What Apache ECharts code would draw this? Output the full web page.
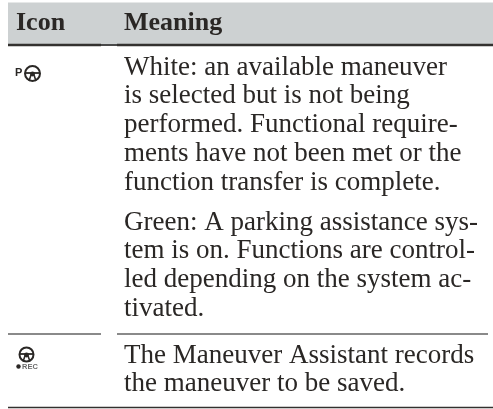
<!DOCTYPE html>
<html>
<head>
<meta charset="utf-8">
<style>
  html, body { margin: 0; padding: 0; background: #fff; }
  #chart { width: 493px; height: 409px; }
</style>
<script src="https://cdn.jsdelivr.net/npm/echarts@6/dist/echarts.min.js"></script>
</head>
<body>
<div id="chart"></div>
<script>
const headers = ['Icon', 'Meaning']
const firstRowLines = [
  'White: an available maneuver',
  'is selected but is not being',
  'performed. Functional require-',
  'ments have not been met or the',
  'function transfer is complete.'
]
const secondRowLines = [
  'Green: A parking assistance sys-',
  'tem is on. Functions are control-',
  'led depending on the system ac-',
  'tivated.'
]
const thirdRowLines = [
  'The Maneuver Assistant records',
  'the maneuver to be saved.'
]

const chart = echarts.init(document.getElementById('chart'))
const ink = '#2a2725'
const lineHeight = 28.9

// y is the baseline of the first line
function textBlock (lines, y) {
  return lines.map((line, i) => ({
    type: 'text',
    x: 124,
    y: y + i * lineHeight - 7.5,
    style: { text: line, font: '27px "Liberation Serif"', fill: ink, textVerticalAlign: 'middle' }
  }))
}

function rule (x1, x2, y, color, width) {
  return {
    type: 'line',
    shape: { x1, y1: y, x2, y2: y },
    style: { stroke: color, lineWidth: width }
  }
}

// steering wheel icon
function wheel (cx, cy, r) {
  return [
    { type: 'circle', shape: { cx, cy, r }, style: { fill: 'none', stroke: ink, lineWidth: 2 } },
    { type: 'circle', shape: { cx, cy: cy + 0.5, r: 2.4 }, style: { fill: ink } },
    { type: 'line', shape: { x1: cx - r, y1: cy - 0.5, x2: cx + r, y2: cy - 0.5 }, style: { stroke: ink, lineWidth: 1.8 } },
    { type: 'line', shape: { x1: cx - 1, y1: cy, x2: cx - 3.5, y2: cy + r }, style: { stroke: ink, lineWidth: 1.6 } },
    { type: 'line', shape: { x1: cx + 1, y1: cy, x2: cx + 3.5, y2: cy + r }, style: { stroke: ink, lineWidth: 1.6 } }
  ]
}

chart.setOption({
  animation: false,
  graphic: {
    elements: [
      { type: 'rect', shape: { x: 8, y: 2.5, width: 485, height: 42 }, style: { fill: '#cdd1d2' } },
      { type: 'text', x: 16, y: 23.5, style: { text: headers[0], font: 'bold 26px "Liberation Serif"', fill: ink, textVerticalAlign: 'middle' } },
      { type: 'text', x: 124, y: 23.5, style: { text: headers[1], font: 'bold 26px "Liberation Serif"', fill: ink, textVerticalAlign: 'middle' } },
      rule(8, 101, 45, '#33312f', 2.5),
      rule(101, 117, 45, '#4a4a4a', 2),
      rule(117, 493, 45, '#33312f', 2.5),
      ...textBlock(firstRowLines, 75),
      ...textBlock(secondRowLines, 230),
      ...textBlock(thirdRowLines, 363),
      { type: 'text', x: 15, y: 73, style: { text: 'P', font: 'bold 11px "Liberation Sans"', fill: ink, textVerticalAlign: 'middle' } },
      ...wheel(32.5, 73.5, 7.5),
      ...wheel(26.5, 354.5, 7),
      { type: 'circle', shape: { cx: 18.5, cy: 366.5, r: 2.2 }, style: { fill: ink } },
      { type: 'text', x: 22, y: 367, style: { text: 'REC', font: 'bold 7.5px "Liberation Sans"', fill: '#6a6a6a', textVerticalAlign: 'middle' } },
      rule(8, 101, 334, '#8a8a8a', 2),
      rule(117, 488, 334, '#8a8a8a', 2),
      rule(8, 493, 407.5, '#33312f', 1.5)
    ]
  }
})
</script>
</body>
</html>
